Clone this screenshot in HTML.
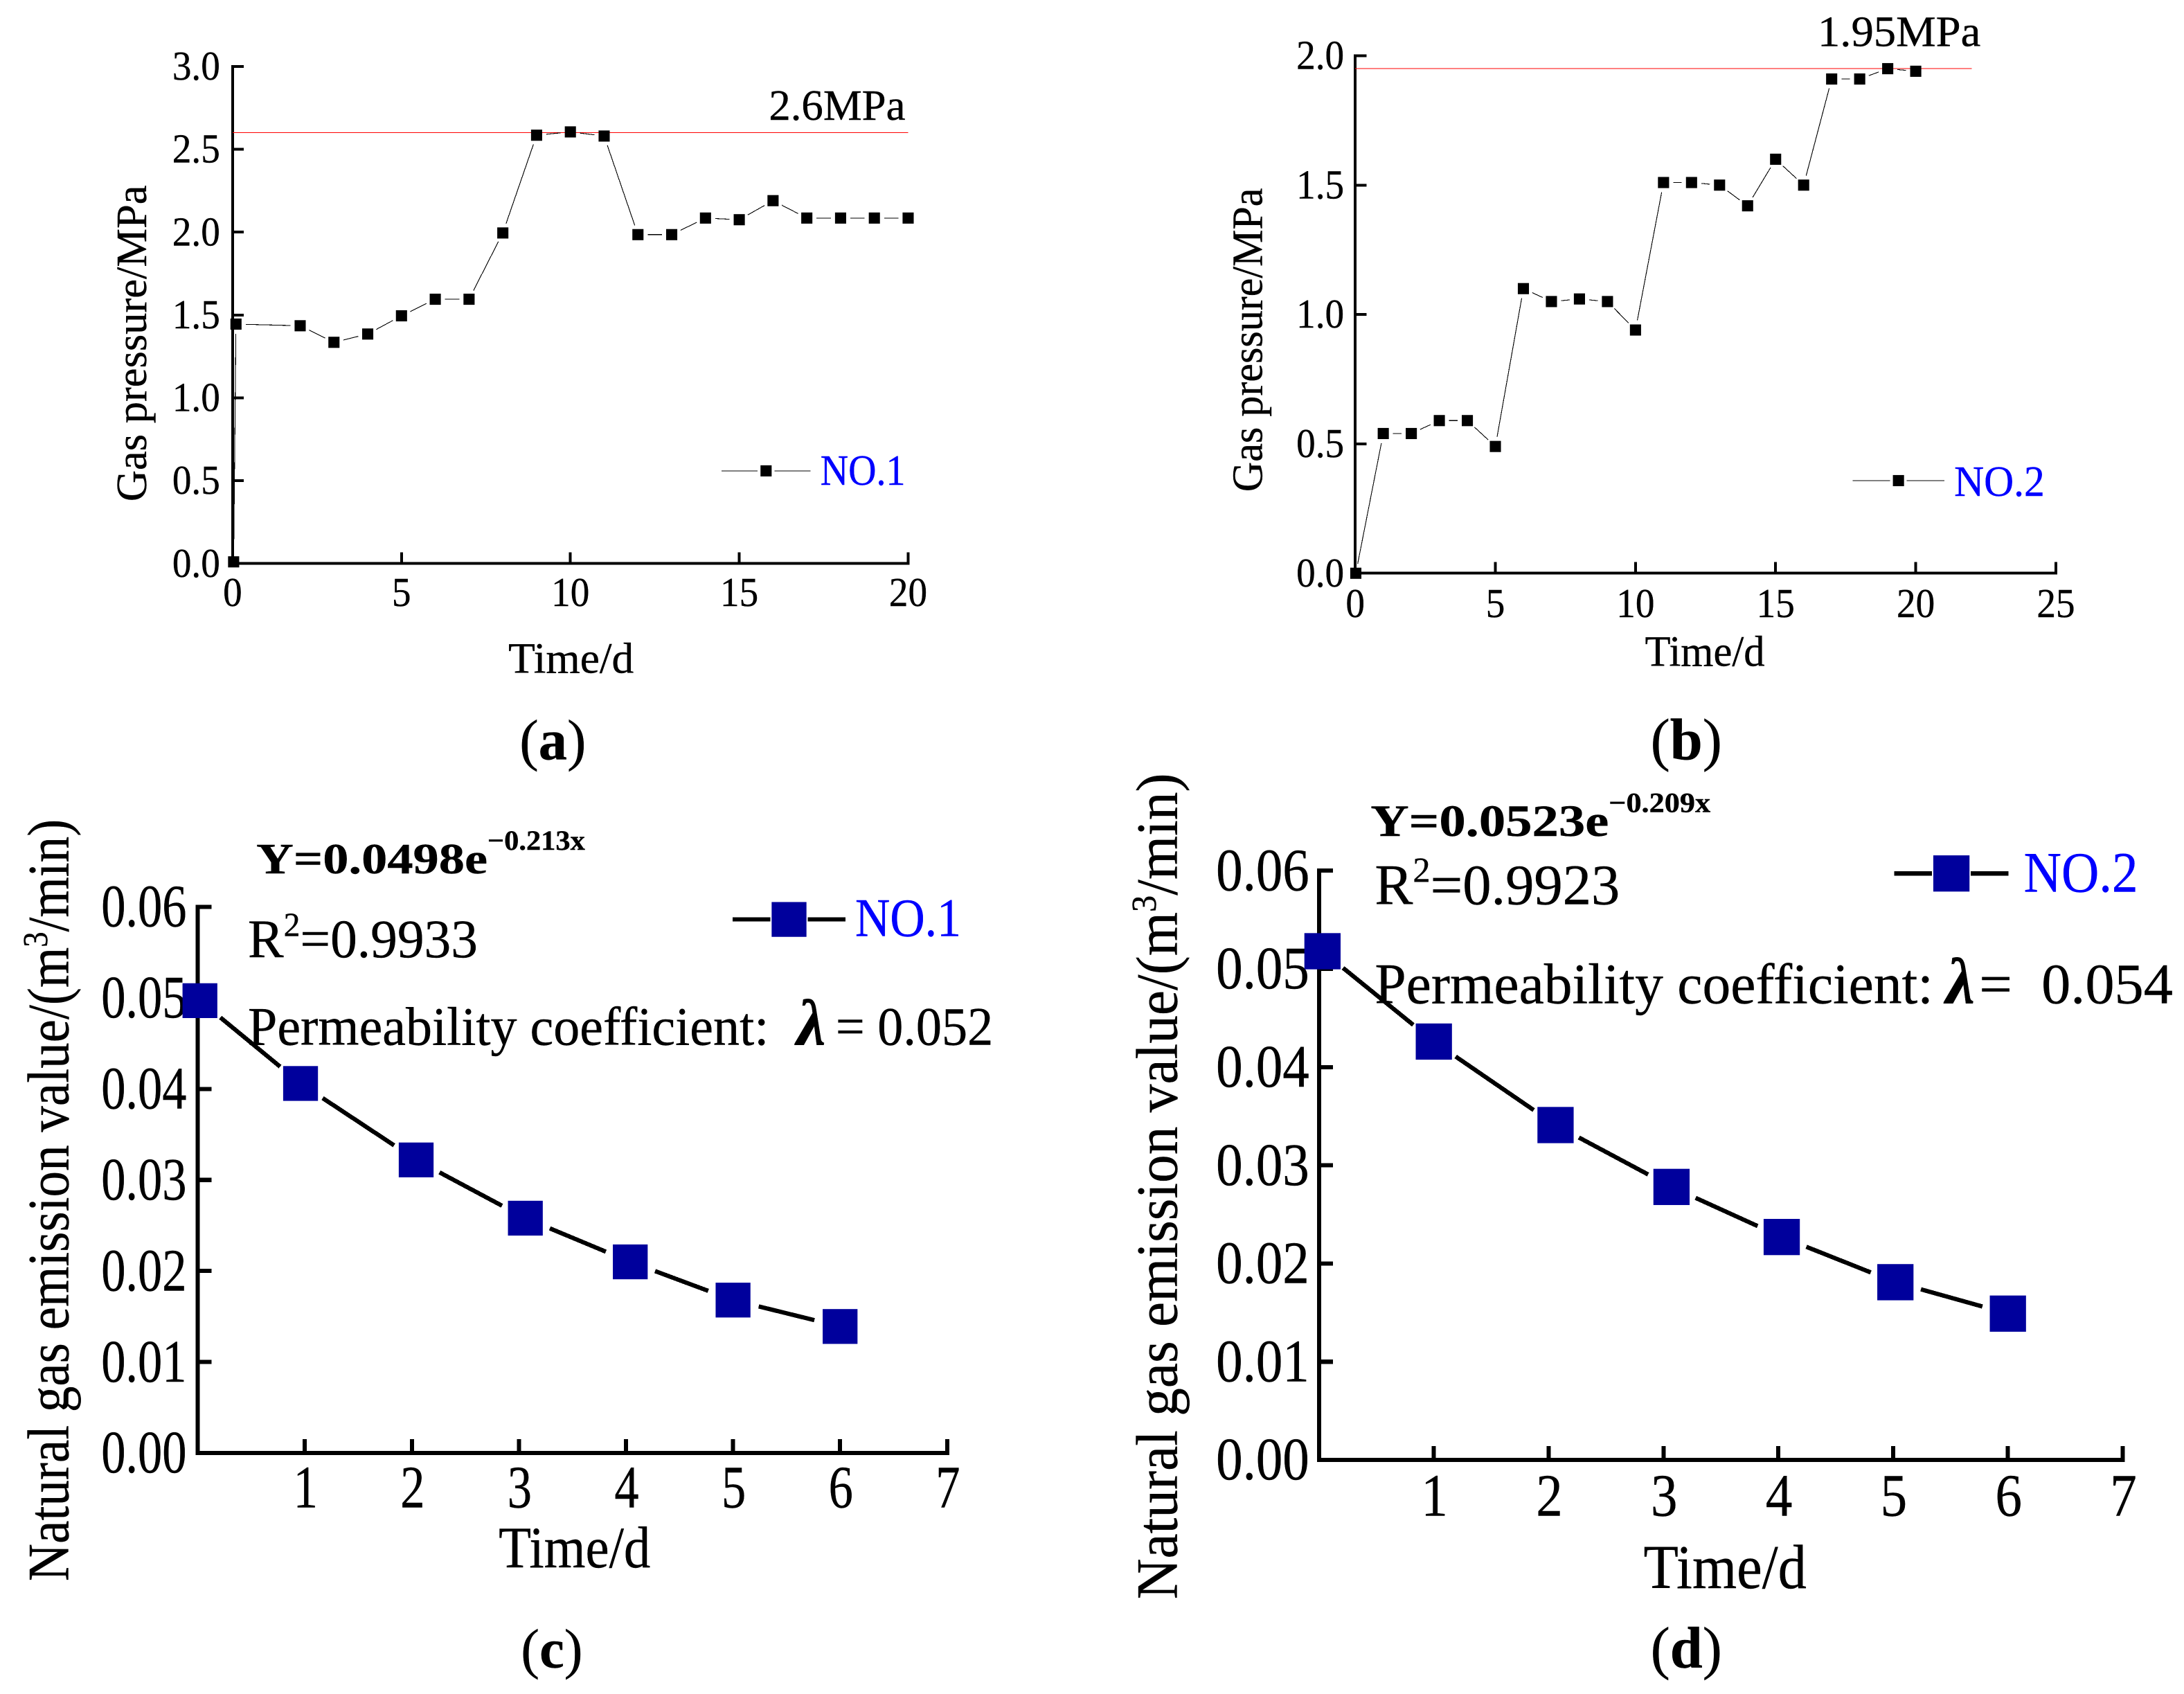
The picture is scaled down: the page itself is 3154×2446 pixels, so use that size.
<!DOCTYPE html>
<html lang="en">
<head>
<meta charset="utf-8">
<title>Gas pressure and natural gas emission charts</title>
<style>
html,body{margin:0;padding:0;background:#fff;}
svg{display:block;}
text{font-family:"Liberation Serif",serif;fill:#000;stroke:#000;stroke-width:0.2;white-space:pre;}
.blue{fill:#0000ff;stroke:#0000ff;}
</style>
</head>
<body>
<svg id="figure" xmlns="http://www.w3.org/2000/svg" width="3154" height="2446" viewBox="0 0 1568 1216" preserveAspectRatio="none">
<rect x="0" y="0" width="1568" height="1216" fill="#fff"/>

<g id="panel-a">
  <text transform="translate(105,360) rotate(-90)" font-size="31" textLength="227" lengthAdjust="spacingAndGlyphs">Gas pressure/MPa</text>
  <text x="365" y="483" font-size="31" textLength="90" lengthAdjust="spacingAndGlyphs">Time/d</text>
  <text x="552" y="86" font-size="31" textLength="98" lengthAdjust="spacingAndGlyphs">2.6MPa</text>
  <text class="blue" x="589" y="348" font-size="31" textLength="61" lengthAdjust="spacingAndGlyphs">NO.1</text>
  <text x="373" y="545" font-size="41">(<tspan font-weight="bold">a</tspan>)</text>
</g>

<g id="panel-b">
  <text transform="translate(906,353) rotate(-90)" font-size="31" textLength="218" lengthAdjust="spacingAndGlyphs">Gas pressure/MPa</text>
  <text x="1181" y="478" font-size="31" textLength="86" lengthAdjust="spacingAndGlyphs">Time/d</text>
  <text x="1305" y="33" font-size="31" textLength="117" lengthAdjust="spacingAndGlyphs">1.95MPa</text>
  <text class="blue" x="1403" y="356" font-size="31" textLength="65" lengthAdjust="spacingAndGlyphs">NO.2</text>
  <text x="1185" y="545" font-size="42">(<tspan font-weight="bold">b</tspan>)</text>
</g>

<g id="panel-c">
  <text transform="translate(49,1135) rotate(-90)" font-size="42" textLength="547" lengthAdjust="spacingAndGlyphs">Natural gas emission value/(m<tspan font-size="25" dy="-15">3</tspan><tspan dy="15">/min)</tspan></text>
  <text x="358" y="1125" font-size="42" textLength="109" lengthAdjust="spacingAndGlyphs">Time/d</text>
  <text x="184" y="627" font-size="31" font-weight="bold" textLength="166" lengthAdjust="spacingAndGlyphs">Y=0.0498e</text>
  <text x="350" y="610" font-size="20" font-weight="bold" textLength="70" lengthAdjust="spacingAndGlyphs">−0.213x</text>
  <text x="178" y="687" font-size="39" textLength="165" lengthAdjust="spacingAndGlyphs">R<tspan font-size="24" dy="-15">2</tspan><tspan dy="15">=0.9933</tspan></text>
  <text x="178" y="750" font-size="39" textLength="374" lengthAdjust="spacingAndGlyphs">Permeability coefficient:</text>
  <text x="572" y="750" font-size="47" font-weight="bold" font-style="italic">λ</text>
  <text x="600" y="750" font-size="39" textLength="113" lengthAdjust="spacingAndGlyphs">= 0.052</text>
  <text class="blue" x="614" y="672" font-size="39" textLength="76" lengthAdjust="spacingAndGlyphs">NO.1</text>
  <text x="374" y="1197" font-size="40">(<tspan font-weight="bold">c</tspan>)</text>
</g>

<g id="panel-d">
  <text transform="translate(845,1148) rotate(-90)" font-size="42" textLength="593" lengthAdjust="spacingAndGlyphs">Natural gas emission value/(m<tspan font-size="25" dy="-15">3</tspan><tspan dy="15">/min)</tspan></text>
  <text x="1180" y="1140" font-size="45" textLength="117" lengthAdjust="spacingAndGlyphs">Time/d</text>
  <text x="984" y="600" font-size="32" font-weight="bold" textLength="171" lengthAdjust="spacingAndGlyphs">Y=0.0523e</text>
  <text x="1155" y="583" font-size="20" font-weight="bold" textLength="73" lengthAdjust="spacingAndGlyphs">−0.209x</text>
  <text x="987" y="649" font-size="41" textLength="176" lengthAdjust="spacingAndGlyphs">R<tspan font-size="25" dy="-16">2</tspan><tspan dy="16">=0.9923</tspan></text>
  <text x="987" y="720" font-size="41" textLength="401" lengthAdjust="spacingAndGlyphs">Permeability coefficient:</text>
  <text x="1397" y="720" font-size="47" font-weight="bold" font-style="italic">λ</text>
  <text x="1421" y="720" font-size="41" textLength="139" lengthAdjust="spacingAndGlyphs">=  0.054</text>
  <text class="blue" x="1453" y="640" font-size="41" textLength="82" lengthAdjust="spacingAndGlyphs">NO.2</text>
  <text x="1185" y="1197" font-size="42">(<tspan font-weight="bold">d</tspan>)</text>
</g>
</svg>

<script>
// Panel (a) data
const aDays = [0.03, 0.1, 2, 3, 4, 5, 6, 7, 8, 9, 10, 11, 12, 13, 14, 15, 16, 17, 18, 19, 20];
const aPressure = [0.01, 1.445, 1.435, 1.335, 1.385, 1.495, 1.595, 1.595, 1.995, 2.585, 2.605, 2.58, 1.985, 1.985, 2.085, 2.075, 2.19, 2.085, 2.085, 2.085, 2.085];
const aXTicks = [0, 5, 10, 15, 20];
const aXTickLabels = ["0", "5", "10", "15", "20"];
const aYTicks = [0, 0.5, 1, 1.5, 2, 2.5, 3];
const aYTickLabels = ["0.0", "0.5", "1.0", "1.5", "2.0", "2.5", "3.0"];
const aReference = [2.6];

// Panel (b) data
const bDays = [0.02, 1, 2, 3, 4, 5, 6, 7, 8, 9, 10, 11, 12, 13, 14, 15, 16, 17, 18, 19, 20];
const bPressure = [0, 0.54, 0.54, 0.59, 0.59, 0.49, 1.10, 1.05, 1.06, 1.05, 0.94, 1.51, 1.51, 1.50, 1.42, 1.60, 1.50, 1.91, 1.91, 1.95, 1.94];
const bXTicks = [0, 5, 10, 15, 20, 25];
const bXTickLabels = ["0", "5", "10", "15", "20", "25"];
const bYTicks = [0, 0.5, 1, 1.5, 2];
const bYTickLabels = ["0.0", "0.5", "1.0", "1.5", "2.0"];
const bReference = [1.95];

// Panel (c) data
const cDays = [0.02, 0.96, 2.04, 3.06, 4.04, 5.0, 6.0];
const cEmission = [0.0497, 0.0406, 0.0322, 0.0258, 0.0210, 0.0168, 0.0139];
const cXTicks = [1, 2, 3, 4, 5, 6, 7];
const cXTickLabels = ["1", "2", "3", "4", "5", "6", "7"];
const cYTicks = [0, 0.01, 0.02, 0.03, 0.04, 0.05, 0.06];
const cYTickLabels = ["0.00", "0.01", "0.02", "0.03", "0.04", "0.05", "0.06"];

// Panel (d) data
const dDays = [0.03, 1.0, 2.06, 3.07, 4.03, 5.02, 6.0];
const dEmission = [0.0518, 0.0426, 0.0341, 0.0278, 0.0227, 0.0181, 0.0149];
const dXTicks = [1, 2, 3, 4, 5, 6, 7];
const dXTickLabels = ["1", "2", "3", "4", "5", "6", "7"];
const dYTicks = [0, 0.01, 0.02, 0.03, 0.04, 0.05, 0.06];
const dYTickLabels = ["0.00", "0.01", "0.02", "0.03", "0.04", "0.05", "0.06"];

const NS = "http://www.w3.org/2000/svg";

function linear(d0, d1, r0, r1) {
  return function (v) { return r0 + (v - d0) * (r1 - r0) / (d1 - d0); };
}

function shape(parent, tag, props, name) {
  const el = document.createElementNS(NS, tag);
  Object.keys(props).forEach(function (k) { el.setAttribute(k, props[k]); });
  
  
  parent.appendChild(el);
  return el;
}

function gappedLine(parent, x1, y1, x2, y2, gap, width, name) {
  const len = Math.hypot(x2 - x1, y2 - y1);
  if (len <= gap * 2) return;
  const ux = (x2 - x1) / len, uy = (y2 - y1) / len;
  shape(parent, "line", {
    x1: x1 + ux * gap, y1: y1 + uy * gap,
    x2: x2 - ux * gap, y2: y2 - uy * gap,
    stroke: "#000", "stroke-width": width, "shape-rendering": "crispEdges"
  }, name);
}

function marker(parent, cx, cy, size, fill, name) {
  shape(parent, "rect", { x: cx - size / 2, y: cy - size / 2, width: size, height: size, fill: fill }, name);
}

function label(parent, x, y, str, size, sx, anchor, name) {
  const el = shape(parent, "text", {
    transform: "translate(" + x + "," + y + ") scale(" + sx + ",1)",
    "font-size": size,
    "text-anchor": anchor
  }, name);
  el.textContent = str;
}

function drawPanel(p) {
  const g = document.getElementById(p.id);
  const sx = linear(p.xDomain[0], p.xDomain[1], p.left, p.right);
  const sy = linear(p.yDomain[0], p.yDomain[1], p.bottom, p.top);

  p.yTicks.forEach(function (t, i) {
    shape(g, "line", { x1: p.left, x2: p.left + p.tickLen, y1: sy(t), y2: sy(t), stroke: "#000", "stroke-width": p.axisW, "shape-rendering": "crispEdges" }, "y-tick");
    label(g, p.left - p.yLabelGap, sy(t) + p.yLabelDy, p.yLabels[i], p.tickFont, p.tickSx, "end", "y-tick-label");
  });
  p.xTicks.forEach(function (t, i) {
    shape(g, "line", { x1: sx(t), x2: sx(t), y1: p.bottom, y2: p.bottom - p.tickLen, stroke: "#000", "stroke-width": p.axisW, "shape-rendering": "crispEdges" }, "x-tick");
    label(g, sx(t) + p.xLabelDx, p.xLabelY, p.xLabels[i], p.tickFont, p.tickSx, "middle", "x-tick-label");
  });
  shape(g, "line", { x1: p.left, x2: p.left, y1: p.top - p.axisW / 2, y2: p.bottom + p.axisW / 2, stroke: "#000", "stroke-width": p.axisW, "shape-rendering": "crispEdges" }, "y-axis-line");
  shape(g, "line", { x1: p.left - p.axisW / 2, x2: p.right + p.axisW / 2, y1: p.bottom, y2: p.bottom, stroke: "#000", "stroke-width": p.axisW, "shape-rendering": "crispEdges" }, "x-axis-line");

  if (p.reference) {
    shape(g, "line", { x1: sx(p.refFrom), x2: sx(p.refTo), y1: sy(p.reference[0]), y2: sy(p.reference[0]), stroke: "#ff0000", "stroke-width": 0.55, "shape-rendering": "crispEdges" }, "reference-line");
  }

  for (let i = 1; i < p.xs.length; i++) {
    gappedLine(g, sx(p.xs[i - 1]), sy(p.ys[i - 1]), sx(p.xs[i]), sy(p.ys[i]), p.gap, p.lineW, "series-segment");
  }
  p.xs.forEach(function (x, i) {
    marker(g, sx(x), sy(p.ys[i]), p.markerSize, p.color, "series-point");
  });

  shape(g, "line", { x1: p.legend[0], x2: p.legend[2], y1: p.legend[1], y2: p.legend[1], stroke: "#000", "stroke-width": p.lineW, "stroke-dasharray": p.legendDash, "shape-rendering": "crispEdges" }, "legend-line");
  marker(g, (p.legend[0] + p.legend[2]) / 2, p.legend[1], p.markerSize, p.color, "legend-marker");
}

drawPanel({
  id: "panel-a", left: 167, right: 652, top: 47.7, bottom: 404.5,
  xDomain: [0, 20], yDomain: [0, 3], xs: aDays, ys: aPressure,
  xTicks: aXTicks, xLabels: aXTickLabels, yTicks: aYTicks, yLabels: aYTickLabels,
  reference: aReference, refFrom: 0, refTo: 20,
  tickFont: 29.5, tickSx: 0.93, tickLen: 8, axisW: 2, yLabelGap: 9, yLabelDy: 9.5, xLabelY: 435, xLabelDx: 0,
  gap: 7, lineW: 0.55, markerSize: 8, color: "#000",
  legend: [518, 338, 582], legendDash: "26 12 26"
});

drawPanel({
  id: "panel-b", left: 973, right: 1476, top: 40, bottom: 411.5,
  xDomain: [0, 25], yDomain: [0, 2], xs: bDays, ys: bPressure,
  xTicks: bXTicks, xLabels: bXTickLabels, yTicks: bYTicks, yLabels: bYTickLabels,
  reference: bReference, refFrom: 0, refTo: 22,
  tickFont: 29.5, tickSx: 0.93, tickLen: 8, axisW: 2, yLabelGap: 8, yLabelDy: 9.5, xLabelY: 443, xLabelDx: 0,
  gap: 7, lineW: 0.55, markerSize: 8, color: "#000",
  legend: [1330, 345, 1396], legendDash: "27 12 27"
});

drawPanel({
  id: "panel-c", left: 142, right: 680, top: 651, bottom: 1043,
  xDomain: [0, 7], yDomain: [0, 0.06], xs: cDays, ys: cEmission,
  xTicks: cXTicks, xLabels: cXTickLabels, yTicks: cYTicks, yLabels: cYTickLabels,
  tickFont: 43, tickSx: 0.815, tickLen: 10, axisW: 3, yLabelGap: 8, yLabelDy: 14, xLabelY: 1082, xLabelDx: 0.5,
  gap: 19, lineW: 3.1, markerSize: 25, color: "#00009c",
  legend: [526, 660, 607], legendDash: "27 27 27"
});

drawPanel({
  id: "panel-d", left: 947, right: 1524, top: 625, bottom: 1048,
  xDomain: [0, 7], yDomain: [0, 0.06], xs: dDays, ys: dEmission,
  xTicks: dXTicks, xLabels: dXTickLabels, yTicks: dYTicks, yLabels: dYTickLabels,
  tickFont: 43, tickSx: 0.89, tickLen: 10, axisW: 3, yLabelGap: 7, yLabelDy: 14, xLabelY: 1088, xLabelDx: 0.5,
  gap: 19, lineW: 3.1, markerSize: 26, color: "#00009c",
  legend: [1360, 627, 1442], legendDash: "27 28 27"
});
</script>
</body>
</html>
